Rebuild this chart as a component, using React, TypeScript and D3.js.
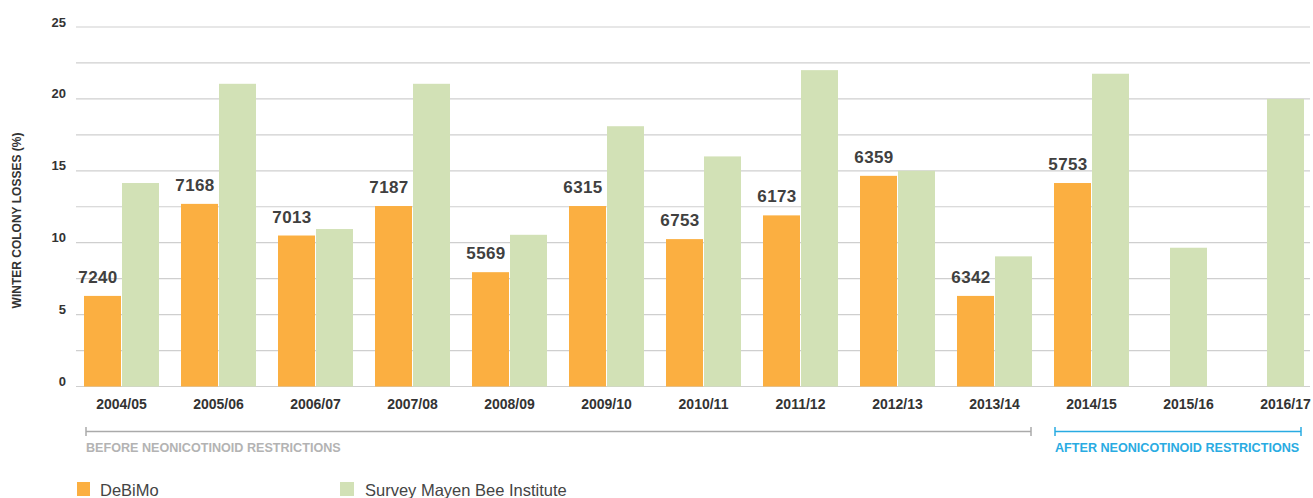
import React from "react";
import * as d3 from "d3";

const categories = ["2004/05","2005/06","2006/07","2007/08","2008/09","2009/10","2010/11","2011/12","2012/13","2013/14","2014/15","2015/16","2016/17"];
const debimo: (number | null)[] = [6.3, 12.7, 10.5, 12.55, 7.95, 12.55, 10.25, 11.9, 14.65, 6.3, 14.15, null, null];
const mayen: (number | null)[] = [14.15, 21.05, 10.95, 21.05, 10.55, 18.1, 16.0, 22.0, 15.0, 9.05, 21.75, 9.65, 20.0];
const colonies: (number | null)[] = [7240, 7168, 7013, 7187, 5569, 6315, 6753, 6173, 6359, 6342, 5753, null, null];
const yTickLabels = [0, 5, 10, 15, 20, 25];
const gridValues = [0, 2.5, 5, 7.5, 10, 12.5, 15, 17.5, 20, 22.5, 25];
const beforeCats = ["2004/05", "2013/14"];
const afterCats = ["2014/15", "2016/17"];
const seriesNames = ["DeBiMo", "Survey Mayen Bee Institute"];

const W = 1313, H = 498;
const ORANGE = "#fbaf41";
const GREEN = "#d2e1b6";
const FONT = "'Liberation Sans', Arial, Helvetica, sans-serif";

export default function App() {
  const step = 97;
  const x = d3.scaleBand<string>().domain(categories).range([73, 73 + step * categories.length]).padding(0);
  const y = d3.scaleLinear().domain([0, 25]).range([386.5, 27]);
  const bw = 37;
  const cx = (c: string) => (x(c) as number) + x.bandwidth() / 2;

  const bars: JSX.Element[] = [];
  categories.forEach((c, i) => {
    const d = debimo[i];
    const m = mayen[i];
    const center = cx(c);
    if (d != null && m != null) {
      bars.push(<rect key={"d" + i} x={center - 0.5 - bw} y={y(d)} width={bw} height={y(0) - y(d)} fill={ORANGE} />);
      bars.push(<rect key={"m" + i} x={center + 0.5} y={y(m)} width={bw} height={y(0) - y(m)} fill={GREEN} />);
    } else if (m != null) {
      bars.push(<rect key={"m" + i} x={center - bw / 2} y={y(m)} width={bw} height={y(0) - y(m)} fill={GREEN} />);
    }
  });

  const labels = categories.map((c, i) => {
    const d = debimo[i];
    const n = colonies[i];
    if (d == null || n == null) return null;
    const center = cx(c) - 0.5 - bw / 2 - 4.5;
    return (
      <text key={"l" + i} x={center} y={y(d) - 13} textAnchor="middle" fontFamily={FONT} fontWeight="bold" fontSize={17} fill="#404040" letterSpacing={0.4}>
        {n}
      </text>
    );
  });

  const bx1 = cx(beforeCats[0]) - 0.5 - bw + 2;
  const bx2 = cx(beforeCats[1]) + 0.5 + bw - 1;
  const ax1 = cx(afterCats[0]) - 0.5 - bw + 1;
  const ax2 = cx(afterCats[1]) + bw / 2 - 3;
  const by = 431.5;

  return (
    <svg width={W} height={H} style={{ position: "fixed", left: 0, top: 0, display: "block", background: "#fff" }}>
      <rect x={0} y={0} width={W} height={H} fill="#fff" />
      {gridValues.map((v) => (
        <line key={"g" + v} x1={76} x2={1310} y1={y(v)} y2={y(v)} stroke="#cfcfcf" strokeWidth={1.2} />
      ))}
      {yTickLabels.map((v) => (
        <text key={"t" + v} x={66} y={y(v) - 0.5} textAnchor="end" fontFamily={FONT} fontWeight="bold" fontSize={13} fill="#333">
          {v}
        </text>
      ))}
      <text transform={`translate(20.5, ${220.5}) rotate(-90)`} textAnchor="middle" fontFamily={FONT} fontWeight="bold" fontSize={12} fill="#333">
        WINTER COLONY LOSSES (%)
      </text>
      {bars}
      {labels}
      {categories.map((c) => (
        <text key={"x" + c} x={cx(c)} y={409} textAnchor="middle" fontFamily={FONT} fontWeight="bold" fontSize={14} fill="#333">
          {c}
        </text>
      ))}
      <g stroke="#aaaaaa" strokeWidth={1.5}>
        <line x1={bx1} x2={bx2} y1={by} y2={by} />
        <line x1={bx1} x2={bx1} y1={by - 4.5} y2={by + 4.5} />
        <line x1={bx2} x2={bx2} y1={by - 4.5} y2={by + 4.5} />
      </g>
      <text x={bx1} y={452} fontFamily={FONT} fontWeight="bold" fontSize={12.6} fill="#b3b3b3">
        BEFORE NEONICOTINOID RESTRICTIONS
      </text>
      <g stroke="#29abe2" strokeWidth={1.5}>
        <line x1={ax1} x2={ax2} y1={by} y2={by} />
        <line x1={ax1} x2={ax1} y1={by - 4.5} y2={by + 4.5} />
        <line x1={ax2} x2={ax2} y1={by - 4.5} y2={by + 4.5} />
      </g>
      <text x={ax1} y={452} fontFamily={FONT} fontWeight="bold" fontSize={12.6} fill="#29abe2">
        AFTER NEONICOTINOID RESTRICTIONS
      </text>
      <rect x={77} y={482} width={13} height={14} fill={ORANGE} />
      <text x={100} y={496} fontFamily={FONT} fontSize={16.5} fill="#444">{seriesNames[0]}</text>
      <rect x={340} y={482} width={14} height={14} fill={GREEN} />
      <text x={365} y={496} fontFamily={FONT} fontSize={16.5} fill="#444">{seriesNames[1]}</text>
    </svg>
  );
}
